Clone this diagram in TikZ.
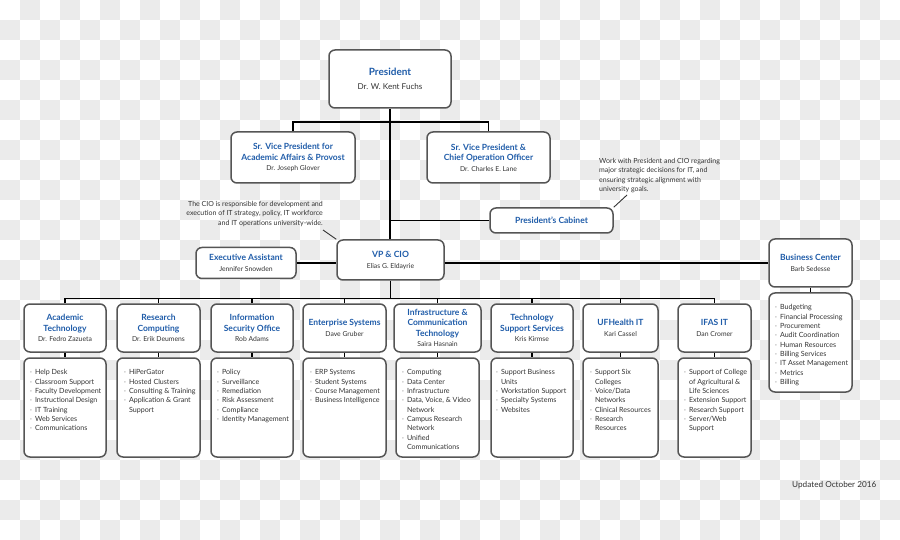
\documentclass[tikz,border=0pt]{standalone}
\usepackage{fontspec}
\setmainfont{Lato}
\definecolor{hblue}{HTML}{1F5CA9}
\definecolor{bord}{HTML}{555555}
\definecolor{txt}{HTML}{333333}
\definecolor{chk}{HTML}{EBEBEB}
\newcommand\ttl[1]{{\fontsize{8.5}{10.4}\selectfont\bfseries\color{hblue}#1}}
\newcommand\nm[1]{{\fontsize{6.8}{10.4}\selectfont\color{txt}#1}}
\newcommand\bulit{\textcolor{gray}{·}}
\newcommand\lstab[1]{\begin{tabular}{@{}l@{\hspace{3pt}}l@{}}#1\end{tabular}}
\tikzset{
  box/.style={draw=bord, line width=1.5pt, rounded corners=6pt, fill=white, inner sep=0pt, align=center, font=\fontsize{8.5}{10.4}\selectfont},
  conn/.style={line width=1.8pt, black},
  noteline/.style={line width=0.9pt, txt},
  lt/.style={anchor=north west, inner sep=0pt, font=\fontsize{7.1}{9.33}\selectfont, text=txt},
  note/.style={inner sep=0pt, font=\fontsize{7}{9.1}\selectfont, text=txt}
}
\begin{document}
\begin{tikzpicture}[x=1pt,y=-1pt]
\useasboundingbox (0,0) rectangle (900,540);
\fill[white] (0,0) rectangle (900,540);
\foreach \i in {0,...,44}{\foreach \j in {0,...,26}{\ifodd\numexpr\i+\j\relax \fill[chk] (\i*20,\j*20) rectangle ++(20,20);\fi}}

% top level
\node[box, minimum width=122, minimum height=58, font=\fontsize{10}{14}\selectfont] (pres) at (390,79) {{\fontsize{10}{14}\selectfont\bfseries\color{hblue}President}\\{\fontsize{8.1}{14}\selectfont\color{txt}Dr. W. Kent Fuchs}};
\node[box, minimum width=124, minimum height=51] (svp1) at (293,157.5) {\ttl{Sr. Vice President for}\\\ttl{Academic Affairs \& Provost}\\\nm{Dr. Joseph Glover}};
\node[box, minimum width=123, minimum height=51] (svp2) at (488.5,157.5) {\ttl{Sr. Vice President \&}\\\ttl{Chief Operation Officer}\\\nm{Dr. Charles E. Lane}};
\node[box, minimum width=123, minimum height=25] (cab) at (551.5,220.5) {\ttl{President’s Cabinet}};
\node[box, minimum width=107, minimum height=40, font=\fontsize{8.6}{11}\selectfont] (vp) at (390.5,260) {{\fontsize{8.6}{11}\selectfont\bfseries\color{hblue}VP \& CIO}\\\nm{Elias G. Eldayrie}};
\node[box, minimum width=100, minimum height=31] (ea) at (246,263) {\ttl{Executive Assistant}\\\nm{Jennifer Snowden}};
\node[box, minimum width=83, minimum height=48] (bc) at (810.5,263) {\ttl{Business Center}\\\nm{Barb Sedesse}};
\node[box, minimum width=83, minimum height=99] (bcl) at (810.5,342.5) {};
\node[lt] (bclt) at (775,303) {\lstab{\bulit & Budgeting\\ \bulit & Financial Processing\\ \bulit & Procurement\\ \bulit & Audit Coordination\\ \bulit & Human Resources\\ \bulit & Billing Services\\ \bulit & IT Asset Management\\ \bulit & Metrics\\ \bulit & Billing}};

% notes
\node[note, anchor=north east, align=right] (cionote) at (323,201.5) {The CIO is responsible for development and\\execution of IT strategy, policy, IT workforce\\and IT operations university-wide.};
\node[note, anchor=north west, align=left] (cabnote) at (599,158.5) {Work with President and CIO regarding\\major strategic decisions for IT, and\\ensuring strategic alignment with\\university goals.};
\coordinate (cn1) at (323,230);
\coordinate (cn2) at (627,195);
\draw[noteline] (cn1) -- (vp.north west);
\draw[noteline] (cn2) -- (cab.north east);

% departments
\node[box, minimum width=82, minimum height=48] (d1) at (65,328) {\ttl{Academic}\\\ttl{Technology}\\\nm{Dr. Fedro Zazueta}};
\node[box, minimum width=83, minimum height=48] (d2) at (158.5,328) {\ttl{Research}\\\ttl{Computing}\\\nm{Dr. Erik Deumens}};
\node[box, minimum width=82, minimum height=48] (d3) at (252,328) {\ttl{Information}\\\ttl{Security Office}\\\nm{Rob Adams}};
\node[box, minimum width=83, minimum height=48] (d4) at (344.5,328) {\ttl{Enterprise Systems}\\\nm{Dave Gruber}};
\node[box, minimum width=87, minimum height=48] (d5) at (437.5,328) {\ttl{Infrastructure \&}\\\ttl{Communication}\\\ttl{Technology}\\\nm{Saira Hasnain}};
\node[box, minimum width=82, minimum height=48] (d6) at (532,328) {\ttl{Technology}\\\ttl{Support Services}\\\nm{Kris Kirmse}};
\node[box, minimum width=75, minimum height=48] (d7) at (620.5,328) {\ttl{UFHealth IT}\\\nm{Kari Cassel}};
\node[box, minimum width=73, minimum height=48] (d8) at (714.5,328) {\ttl{IFAS IT}\\\nm{Dan Cromer}};

\node[box, minimum width=82, minimum height=99] (l1) at (65,407.5) {};
\node[box, minimum width=83, minimum height=99] (l2) at (158.5,407.5) {};
\node[box, minimum width=82, minimum height=99] (l3) at (252,407.5) {};
\node[box, minimum width=83, minimum height=99] (l4) at (344.5,407.5) {};
\node[box, minimum width=83, minimum height=99] (l5) at (437.5,407.5) {};
\node[box, minimum width=82, minimum height=99] (l6) at (532,407.5) {};
\node[box, minimum width=75, minimum height=99] (l7) at (620.5,407.5) {};
\node[box, minimum width=73, minimum height=99] (l8) at (714.5,407.5) {};

\node[lt] (l1t) at (30,368) {\lstab{\bulit & Help Desk\\ \bulit & Classroom Support\\ \bulit & Faculty Development\\ \bulit & Instructional Design\\ \bulit & IT Training\\ \bulit & Web Services\\ \bulit & Communications}};
\node[lt] (l2t) at (124,368) {\lstab{\bulit & HiPerGator\\ \bulit & Hosted Clusters\\ \bulit & Consulting \& Training\\ \bulit & Application \& Grant\\ & Support}};
\node[lt] (l3t) at (217,368) {\lstab{\bulit & Policy\\ \bulit & Surveillance\\ \bulit & Remediation\\ \bulit & Risk Assessment\\ \bulit & Compliance\\ \bulit & Identity Management}};
\node[lt] (l4t) at (310,368) {\lstab{\bulit & ERP Systems\\ \bulit & Student Systems\\ \bulit & Course Management\\ \bulit & Business Intelligence}};
\node[lt] (l5t) at (402,368) {\lstab{\bulit & Computing\\ \bulit & Data Center\\ \bulit & Infrastructure\\ \bulit & Data, Voice, \& Video\\ & Network\\ \bulit & Campus Research\\ & Network\\ \bulit & Unified\\ & Communications}};
\node[lt] (l6t) at (496,368) {\lstab{\bulit & Support Business\\ & Units\\ \bulit & Workstation Support\\ \bulit & Specialty Systems\\ \bulit & Websites}};
\node[lt] (l7t) at (590,368) {\lstab{\bulit & Support Six\\ & Colleges\\ \bulit & Voice/Data\\ & Networks\\ \bulit & Clinical Resources\\ \bulit & Research\\ & Resources}};
\node[lt] (l8t) at (684,368) {\lstab{\bulit & Support of College\\ & of Agricultural \&\\ & Life Sciences\\ \bulit & Extension Support\\ \bulit & Research Support\\ \bulit & Server/Web\\ & Support}};

\node[inner sep=0pt, anchor=west, font=\fontsize{8.2}{10}\selectfont, text=txt] (upd) at (792,485.5) {Updated October 2016};

% connectors
\coordinate (b1) at (390,122);
\coordinate (b2) at (390,298.5);
\draw[conn] (pres.south) -- (pres.south |- vp.north);
\draw[conn] (svp1.north) |- (b1) -| (svp2.north);
\draw[conn] (pres.south |- cab.west) -- (cab.west);
\draw[conn] (ea.east) -- (vp.west |- ea.east);
\draw[conn] (vp.east |- bc.west) -- (bc.west);
\draw[conn] (bc.south) -- (bcl.north);
\draw[conn] (vp.south) -- (vp.south |- b2);
\draw[conn] (d1.north) |- (b2) -| (d8.north);
\foreach \k in {2,...,7}{\draw[conn] (d\k.north) -- (d\k.north |- b2);}
\foreach \k in {1,...,8}{\draw[conn] (d\k.south) -- (l\k.north);}
\end{tikzpicture}
\end{document}
